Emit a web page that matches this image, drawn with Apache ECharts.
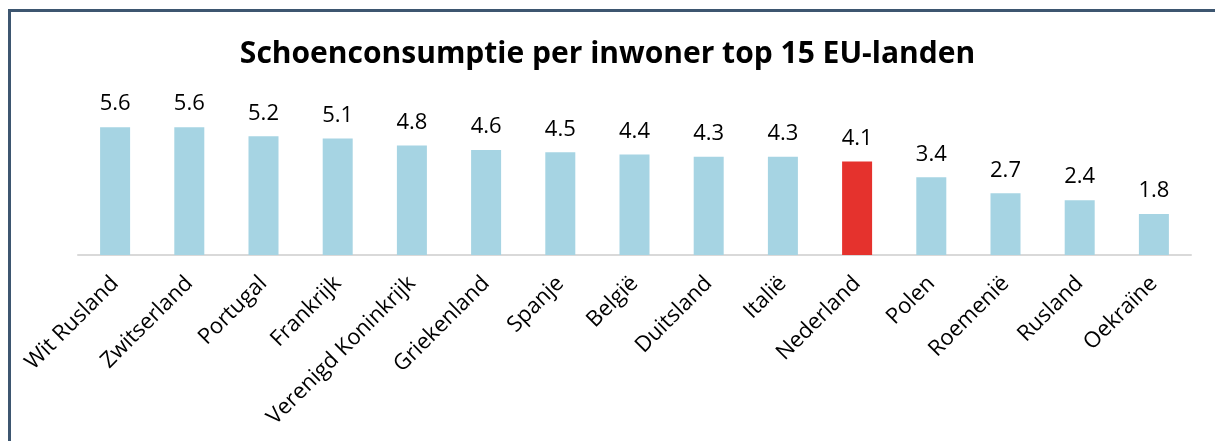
<!DOCTYPE html>
<html>
<head>
<meta charset="utf-8">
<script src="https://cdn.jsdelivr.net/npm/echarts@6/dist/echarts.min.js"></script>
<style>
html,body{margin:0;padding:0;background:#fff;}
#c{width:1215px;height:441px;}
</style>
</head>
<body>
<div id="c"></div>
<script>
const categories = ["Wit Rusland","Zwitserland","Portugal","Frankrijk","Verenigd Koninkrijk","Griekenland","Spanje","België","Duitsland","Italië","Nederland","Polen","Roemenië","Rusland","Oekraïne"];
const values = [5.6,5.6,5.2,5.1,4.8,4.6,4.5,4.4,4.3,4.3,4.1,3.4,2.7,2.4,1.8];
const highlight = "Nederland";
const titleText = "Schoenconsumptie per inwoner top 15 EU-landen";

const FONT = "'Open Sans', 'Noto Sans', sans-serif";
const chart = echarts.init(document.getElementById('c'));
chart.setOption({
  backgroundColor: '#fff',
  animation: false,
  title: {
    text: titleText,
    left: 'center',
    top: 34,
    textStyle: {fontFamily: FONT, fontSize: 30, fontWeight: 'bold', color: '#000'}
  },
  graphic: [
    {type: 'rect', shape: {x: 8, y: 9, width: 1207, height: 3}, style: {fill: '#3d5670'}},
    {type: 'rect', shape: {x: 8, y: 9, width: 3, height: 432}, style: {fill: '#3d5670'}}
  ],
  grid: {left: 78, right: 24, top: 118, bottom: 186, containLabel: false},
  xAxis: {
    type: 'category',
    data: categories,
    axisLine: {lineStyle: {color: '#d9d9d9', width: 2}},
    axisTick: {show: false},
    axisLabel: {rotate: 45, interval: 0, margin: 25, fontFamily: FONT, fontSize: 22, color: '#000'}
  },
  yAxis: {
    type: 'value', min: 0, max: 6, interval: 1,
    show: false,
    splitLine: {show: false}
  },
  series: [{
    type: 'bar',
    barWidth: 30,
    data: values.map((v, i) => ({
      value: v,
      itemStyle: {color: categories[i] === highlight ? '#e5322d' : '#a6d4e3'}
    })),
    label: {
      show: true, position: 'top', distance: 12,
      fontFamily: FONT, fontSize: 22, color: '#000',
      formatter: p => p.value.toFixed(1)
    }
  }]
});
</script>
</body>
</html>
